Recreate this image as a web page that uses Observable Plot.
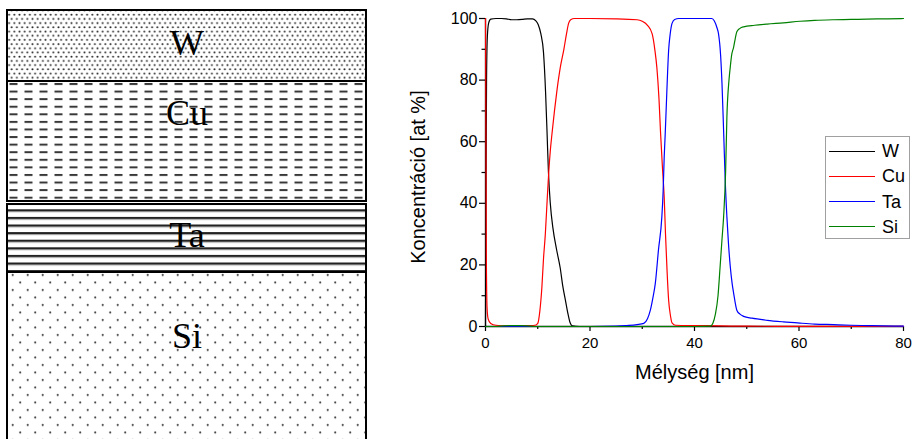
<!DOCTYPE html>
<html>
<head>
<meta charset="utf-8">
<script src="https://cdn.jsdelivr.net/npm/d3@7"></script>
<script src="https://cdn.jsdelivr.net/npm/@observablehq/plot@0.6"></script>
<style>
  body { margin: 0; background: #fff; }
  #root { position: relative; width: 913px; height: 439px; overflow: hidden; font-family: "Liberation Sans", Arial, sans-serif; }
  #left, #right { position: absolute; top: 0; }
  #left { left: 0; }
  #right { left: 380px; }
  .lg-box { position: absolute; box-sizing: border-box; border: 1px solid #a0a0a0; background: #fff; }
  .lg-line { position: absolute; height: 0; border-top: 1px solid; }
  .lg-text { position: absolute; font-size: 18px; line-height: 18px; color: #000; white-space: nowrap; }
</style>
</head>
<body>
<svg width="0" height="0" style="position:absolute">
  <defs>
    <pattern id="pat-W" patternUnits="userSpaceOnUse" x="0" y="0" width="5.2" height="8.4">
      <rect width="5.2" height="8.4" fill="white"/>
      <circle cx="1.3" cy="2.1" r="1.0" fill="#2a2a2a"/>
      <circle cx="3.9" cy="6.3" r="1.0" fill="#2a2a2a"/>
    </pattern>
    <pattern id="pat-Cu" patternUnits="userSpaceOnUse" x="9.5" y="83" width="15" height="7.58">
      <rect width="15" height="7.58" fill="white"/>
      <rect x="0" y="0" width="8" height="2" fill="#383838"/>
    </pattern>
    <pattern id="pat-Ta" patternUnits="userSpaceOnUse" x="0" y="209.3" width="10" height="7.6">
      <rect width="10" height="7.6" fill="white"/>
      <rect y="0" width="10" height="2" fill="#222"/>
      <rect y="2" width="10" height="1" fill="#999"/>
    </pattern>
    <pattern id="pat-Si" patternUnits="userSpaceOnUse" x="8.95" y="271.25" width="15" height="15">
      <rect width="15" height="15" fill="white"/>
      <circle cx="3.75" cy="3.75" r="1.05" fill="#2e2e2e"/>
      <circle cx="11.25" cy="11.25" r="1.05" fill="#2e2e2e"/>
    </pattern>
  </defs>
</svg>
<div id="root">
  <div id="left"></div>
  <div id="right"></div>
</div>
<script>
// ---- Layer schematic (left) ----
const layerNames = ["W", "Cu", "Ta", "Si"];
const layerTop = [0, 71, 194, 262];
const layerBottom = [71, 191, 262, 440];
const labelDepth = [32.5, 103.3, 224.7, 326];

// ---- Depth profile (right) ----
const seriesNames = ["W", "Cu", "Ta", "Si"];
const seriesColors = ["#000000", "#ff0000", "#0000ff", "#008000"];

const wDepth = [0, 0.1, 0.2, 0.35, 0.6, 1, 2, 3, 4, 5, 6, 7, 8, 9, 9.6, 10.1, 10.6, 11.1, 11.5, 11.8, 12.05, 12.4, 12.9, 13.6, 14.3, 14.8, 15.3, 15.8, 16.2, 16.6, 18, 30, 50, 80];
const wConc  = [0, 45, 80, 94, 98.5, 99.8, 100, 100, 99.9, 99.6, 99.6, 99.7, 99.9, 99.9, 99.3, 98, 95, 89, 76, 62, 50, 40, 32, 25, 19, 13, 8.5, 4, 1.2, 0.2, 0, 0, 0, 0];

const cuDepth = [0, 0.06, 0.15, 0.3, 0.5, 1, 2, 4, 6, 8, 9.5, 10, 10.4, 10.8, 11.1, 11.45, 11.8, 12.1, 12.4, 12.75, 13.2, 13.7, 14.3, 15.0, 15.5, 15.9, 16.3, 17, 20, 25, 29, 30, 31, 31.9, 32.4, 32.8, 33.2, 33.5, 33.85, 34.2, 34.45, 34.75, 35.05, 35.4, 35.7, 36.4, 40, 45, 50, 60, 80];
const cuConc  = [100, 75, 25, 6, 2.5, 1, 0.4, 0.2, 0.2, 0.3, 0.4, 1, 5, 13, 22, 30, 41, 50, 57, 63, 70, 77, 84, 90, 95, 98.4, 99.6, 100, 100, 99.9, 99.6, 99.1, 97.8, 95, 90, 84, 74, 63, 52, 42, 30, 18, 8.5, 3.5, 1.2, 0.4, 0.3, 0.2, 0.1, 0.05, 0.05];

const taDepth = [0, 10, 20, 25, 27, 29, 30.3, 31, 31.55, 32, 32.5, 33.1, 33.75, 34.0, 34.2, 34.4, 34.7, 35.05, 35.35, 35.7, 36.2, 37, 40, 43.3, 43.8, 44.3, 44.6, 45.0, 45.26, 45.6, 45.9, 46.2, 46.5, 46.85, 47.2, 47.5, 48.1, 48.7, 49.4, 51, 53.9, 57, 60.2, 63, 66.6, 70, 73, 76, 80];
const taConc  = [0, 0, 0, 0.1, 0.3, 0.6, 1, 2.5, 5.3, 9, 14, 24.8, 35.6, 44, 55, 62.7, 76, 89.7, 95, 98.4, 99.7, 100, 100, 100, 99.2, 97, 95, 88, 79, 62, 46.5, 35.6, 27, 19.4, 14, 10.7, 5.3, 4, 3.3, 2.7, 2, 1.5, 1.1, 0.8, 0.6, 0.4, 0.3, 0.2, 0.1];

const siDepth = [0, 2, 3.5, 5, 6.5, 8, 9.5, 12, 20, 30, 40, 43, 43.5, 44, 44.5, 44.9, 45.25, 45.57, 45.95, 46.2, 46.6, 46.85, 47.1, 47.5, 47.8, 48.1, 48.7, 49.4, 51.5, 53.9, 57, 60.2, 63, 66.6, 70, 73, 77, 80];
const siConc  = [0, 0, 0.2, 0.3, 0.3, 0.2, 0, 0, 0, 0, 0, 0.1, 1, 4, 10, 19.4, 28, 35.6, 50, 68, 80, 84.3, 88, 90.8, 93.5, 95.7, 96.8, 97.3, 97.8, 98.2, 98.6, 99.1, 99.4, 99.6, 99.7, 99.8, 99.9, 100];

const depthTicks = [0, 20, 40, 60, 80];
const depthMinorTicks = [10, 30, 50, 70];
const concTicks = [0, 20, 40, 60, 80, 100];
const concMinorTicks = [10, 30, 50, 70, 90];
const xLabel = "Mélység [nm]";
const yLabel = "Koncentráció [at %]";

// ---- build tables ----
const layers = layerNames.map((name, i) => ({name, top: layerTop[i], bottom: layerBottom[i], label: labelDepth[i]}));
const seriesData = [[wDepth, wConc], [cuDepth, cuConc], [taDepth, taConc], [siDepth, siConc]];
const rows = seriesData.flatMap(([d, c], s) => d.map((depth, i) => ({name: seriesNames[s], depth, conc: c[i]})));

const left = Plot.plot({
  width: 380, height: 439,
  marginTop: 10, marginBottom: 0, marginLeft: 7, marginRight: 14,
  x: {domain: [0, 1], axis: null},
  y: {domain: [0, 429], axis: null, reverse: true},
  style: {background: "transparent", overflow: "hidden"},
  marks: [
    ...layers.map(l => Plot.rect([l], {x1: 0, x2: 1, y1: "top", y2: "bottom", fill: `url(#pat-${l.name})`, stroke: "black", strokeWidth: 2})),
    Plot.text(layers, {x: 0.5, y: "label", text: "name", fontSize: 36, fontFamily: '"Liberation Serif", "Times New Roman", serif', fill: "black", lineAnchor: "middle"})
  ]
});
document.getElementById("left").appendChild(left);

const right = Plot.plot({
  width: 533, height: 439,
  marginLeft: 105, marginRight: 10, marginTop: 18, marginBottom: 113,
  x: {domain: [0, 80]},
  y: {domain: [0, 100]},
  color: {domain: seriesNames, range: seriesColors},
  style: {fontFamily: '"Liberation Sans", Arial, sans-serif', background: "transparent", color: "black", overflow: "visible"},
  marks: [
    Plot.axisX({ticks: depthTicks, tickSize: 5, tickPadding: 6, fontSize: 15, label: null, strokeWidth: 1.2}),
    Plot.axisX({ticks: depthMinorTicks, tickSize: 3, tickFormat: () => "", label: null, strokeWidth: 1.2}),
    Plot.axisY({ticks: concTicks, tickSize: 6, tickPadding: 2, fontSize: 16, label: null, strokeWidth: 1.2}),
    Plot.axisY({ticks: concMinorTicks, tickSize: 3.5, tickFormat: () => "", label: null, strokeWidth: 1.2}),
    Plot.ruleX([0], {stroke: "black", strokeWidth: 1.3}),
    Plot.ruleY([0], {stroke: "black", strokeWidth: 1.3}),
    Plot.line(rows, {x: "depth", y: "conc", z: "name", stroke: "name", strokeWidth: 1.2, curve: "monotone-x"}),
    Plot.text([xLabel], {frameAnchor: "bottom", text: d => d, dy: 45.6, fontSize: 20, lineAnchor: "middle", fill: "black"}),
    Plot.text([yLabel], {frameAnchor: "left", text: d => d, rotate: -90, dx: -67, dy: 4.5, fontSize: 20, textAnchor: "middle", lineAnchor: "middle", fill: "black"})
  ]
});
document.getElementById("right").appendChild(right);

// ---- legend (HTML) ----
const root = document.getElementById("root");
const box = document.createElement("div");
box.className = "lg-box";
Object.assign(box.style, {left: "825px", top: "136px", width: "85px", height: "103px"});
root.appendChild(box);
seriesNames.forEach((name, i) => {
  const cy = 151 + i * 25.2;
  const ln = document.createElement("div");
  ln.className = "lg-line";
  Object.assign(ln.style, {left: "829px", top: (cy - 0.5) + "px", width: "46px", borderTopColor: seriesColors[i]});
  root.appendChild(ln);
  const tx = document.createElement("div");
  tx.className = "lg-text";
  tx.textContent = name;
  Object.assign(tx.style, {left: "882px", top: (cy - 8.8) + "px"});
  root.appendChild(tx);
});
</script>
</body>
</html>
